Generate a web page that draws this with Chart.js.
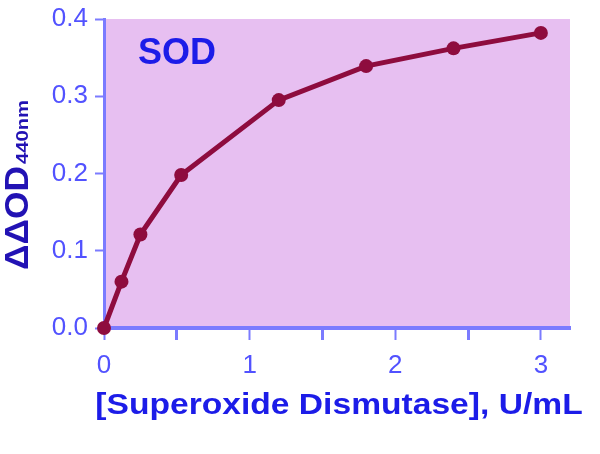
<!DOCTYPE html>
<html>
<head>
<meta charset="utf-8">
<script src="https://cdn.jsdelivr.net/npm/chart.js@4.4.0/dist/chart.umd.min.js"></script>
<style>
  html, body { margin: 0; padding: 0; background: #fff; }
  #wrap { width: 600px; height: 454px; }
</style>
</head>
<body>
<div id="wrap"><canvas id="sodChart"></canvas></div>
<script>
  // values
  var sodUnits = [0, 0.12, 0.25, 0.53, 1.2, 1.8, 2.4, 3.0];
  var deltaOD = [0, 0.06, 0.121, 0.198, 0.295, 0.339, 0.362, 0.382];
  var xTicks = [0, 1, 2, 3];
  var yTicks = [0.0, 0.1, 0.2, 0.3, 0.4];

  var points = sodUnits.map(function (x, i) { return { x: x, y: deltaOD[i] }; });

  var tickBlue = '#5252ff';
  var textBlue = '#1c1ce8';
  var lineRed = '#8e0c3e';

  // text with a little horizontal stretch, like the old bitmap figure
  function stretchText(ctx, txt, x, y, sx) {
    ctx.save();
    ctx.translate(x, y);
    ctx.scale(sx, 1);
    ctx.fillText(txt, 0, 0);
    ctx.restore();
  }

  var decor = {
    id: 'decor',
    beforeDraw: function (chart) {
      var a = chart.chartArea, ctx = chart.ctx;
      ctx.save();
      ctx.fillStyle = '#e7bff1';
      ctx.fillRect(a.left, a.top, a.right - a.left, a.bottom - a.top);
      ctx.restore();
    },
    afterDraw: function (chart) {
      var a = chart.chartArea, ctx = chart.ctx;
      ctx.save();
      ctx.textBaseline = 'alphabetic';
      ctx.textAlign = 'left';

      // SOD label in the plot
      ctx.fillStyle = textBlue;
      ctx.font = 'bold 36px "Liberation Sans", Arial, sans-serif';
      ctx.fillText('SOD', 138, 64);

      // x title
      ctx.font = 'bold 30px "Liberation Sans", Arial, sans-serif';
      var xt = '[Superoxide Dismutase], U/mL';
      var sx = 1.12;
      var w = ctx.measureText(xt).width * sx;
      stretchText(ctx, xt, (a.left + a.right) / 2 - w / 2 + 2, 414, sx);

      // y title, rotated, with subscript
      ctx.fillStyle = '#2212b4';
      ctx.translate(28, 270);
      ctx.rotate(-Math.PI / 2);
      ctx.font = 'bold 33px "Liberation Sans", Arial, sans-serif';
      var main = '\u0394\u0394OD';
      var mw = ctx.measureText(main).width;
      stretchText(ctx, main, 0, 0, 104 / mw);
      ctx.font = 'bold 16px "Liberation Sans", Arial, sans-serif';
      var sub = '440nm';
      var sw = ctx.measureText(sub).width;
      stretchText(ctx, sub, 106, 0, 64 / sw);
      ctx.restore();
    }
  };

  var config = {
    type: 'line',
    data: {
      datasets: [{
        data: points,
        borderColor: lineRed,
        backgroundColor: lineRed,
        borderWidth: 5,
        pointRadius: 7,
        pointBorderWidth: 0,
        tension: 0,
        clip: false
      }]
    },
    options: {
      responsive: true,
      maintainAspectRatio: false,
      animation: false,
      layout: { padding: { left: 0, right: 30, top: 19, bottom: 0 } },
      plugins: { legend: { display: false }, tooltip: { enabled: false } },
      scales: {
        x: {
          type: 'linear',
          min: 0,
          max: 3.2,
          afterFit: function (s) { s.height = 126; s.paddingLeft = 0; s.paddingRight = 0; },
          afterBuildTicks: function (s) {
            s.ticks = [0, 0.5, 1, 1.5, 2, 2.5, 3].map(function (v) { return { value: v }; });
          },
          border: { color: '#7b7bff', width: 4 },
          grid: {
            drawOnChartArea: false,
            drawTicks: true,
            tickLength: 12,
            tickColor: '#7b7bff',
            tickWidth: function (c) { return xTicks.indexOf(c.tick.value) >= 0 ? 2 : 3; }
          },
          ticks: {
            color: tickBlue,
            padding: 10,
            maxRotation: 0,
            autoSkip: false,
            font: { size: 26, family: '"Liberation Sans", Arial, sans-serif' },
            callback: function (v) { return xTicks.indexOf(v) >= 0 ? String(v) : ''; }
          }
        },
        y: {
          type: 'linear',
          min: 0,
          max: 0.4,
          afterFit: function (s) { s.width = 104; s.paddingTop = 0; s.paddingBottom = 0; },
          afterBuildTicks: function (s) {
            s.ticks = yTicks.map(function (v) { return { value: v }; });
          },
          border: { color: '#7b7bff', width: 3 },
          grid: {
            drawOnChartArea: false,
            drawTicks: true,
            tickLength: 9,
            tickColor: '#7b7bff',
            tickWidth: 2
          },
          ticks: {
            color: tickBlue,
            padding: 7,
            font: { size: 26, family: '"Liberation Sans", Arial, sans-serif' },
            callback: function (v) { return v.toFixed(1); }
          }
        }
      }
    },
    plugins: [decor]
  };

  var sodChart = new Chart(document.getElementById('sodChart'), config);
</script>
</body>
</html>
